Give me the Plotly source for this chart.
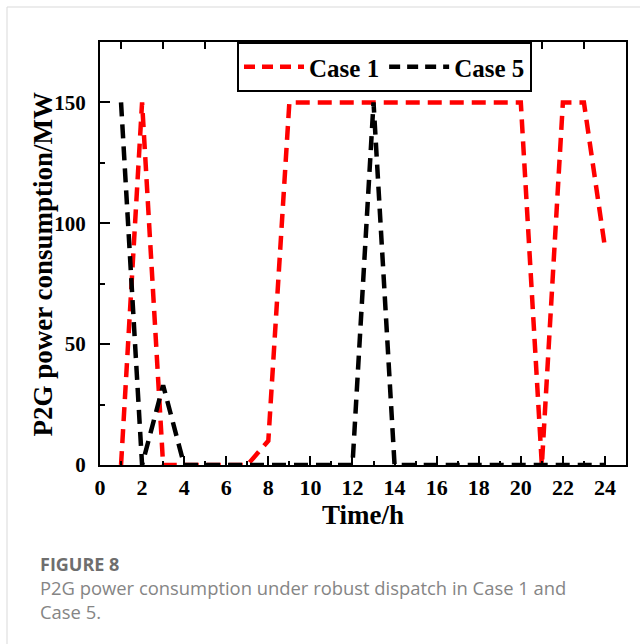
import plotly.graph_objects as go

hours = list(range(1, 25))
case1 = [0, 150, 0, 0, 0, 0, 0, 10, 150, 150, 150, 150, 150, 150, 150, 150, 150, 150, 150, 150, 0, 150, 150, 90]
case5 = [150, 0, 33, 0, 0, 0, 0, 0, 0, 0, 0, 0, 150, 0, 0, 0, 0, 0, 0, 0, 0, 0, 0, 0]
series_names = ["Case 1", "Case 5"]
series_colors = ["#ff0000", "#000000"]
x_ticks = list(range(0, 25, 2))
y_ticks = [0, 50, 100, 150]
x_title = "Time/h"
y_title = "P2G power consumption/MW"

caption_title = "FIGURE 8"
caption_lines = ["P2G power consumption under robust dispatch in Case 1 and", "Case 5."]

SERIF = "Times New Roman, Liberation Serif, serif"

fig = go.Figure()
for name, ys, col in zip(series_names, [case1, case5], series_colors):
    fig.add_trace(go.Scatter(x=hours, y=ys, mode="lines", name=name, showlegend=False,
                             line=dict(color=col, width=4.5, dash="14px,8px")))
    # legend entry
    fig.add_trace(go.Scatter(x=[None], y=[None], mode="lines", name=name, showlegend=True,
                             line=dict(color=col, width=4.5, dash="11px,7px")))

# dummy trace on top axis for odd ticks
fig.add_trace(go.Scatter(x=[None], y=[None], xaxis="x2", showlegend=False, hoverinfo="skip"))

W, H = 640, 644
L, R, T, B = 100, 14, 42, 179
pw, ph = W - L - R, H - T - B

def px_x(px):
    return (px - L) / pw

def px_y(py):
    return (H - B - py) / ph

fig.update_layout(
    width=W, height=H,
    margin=dict(l=L, r=R, t=T, b=B, autoexpand=False),
    paper_bgcolor="white", plot_bgcolor="white",
    font=dict(family=SERIF, color="black"),
    legend=dict(orientation="h", x=px_x(237), y=1.0, xanchor="left", yanchor="top",
                bgcolor="white", bordercolor="black", borderwidth=2,
                font=dict(family=SERIF, size=25, weight="bold", color="black"),
                itemwidth=60, tracegroupgap=0),
    xaxis=dict(range=[0, 25], tickvals=x_ticks, ticks="inside", ticklen=9, tickwidth=2,
               tickcolor="black", showline=True, linewidth=2, linecolor="black", mirror=True,
               showgrid=False, zeroline=False, ticklabelstandoff=2,
               minor=dict(dtick=1, tick0=0, ticks="inside", ticklen=4, tickwidth=2, tickcolor="black", showgrid=False),
               tickfont=dict(family=SERIF, size=22, weight="bold"),
               title=dict(text=x_title, font=dict(family=SERIF, size=27, weight="bold"), standoff=2)),
    xaxis2=dict(range=[0, 25], overlaying="x", side="top", anchor="y", tick0=1, dtick=2,
                ticks="inside", ticklen=7, tickwidth=2, tickcolor="black", showticklabels=False,
                showgrid=False, zeroline=False, showline=False),
    yaxis=dict(range=[0, 175], tickvals=y_ticks, ticks="inside", ticklen=10, tickwidth=2,
               tickcolor="black", showline=True, linewidth=2, linecolor="black", mirror=True,
               showgrid=False, zeroline=False, ticklabelstandoff=8,
               minor=dict(tickvals=[25, 75, 125], ticks="inside", ticklen=5, tickwidth=2, tickcolor="black", showgrid=False),
               tickfont=dict(family=SERIF, size=21, weight="bold")),
)

# y-axis title (placed as rotated text to match the reference position)
fig.add_annotation(text=y_title, xref="paper", yref="paper", x=px_x(42.5), y=px_y(264),
                   xanchor="center", yanchor="middle", textangle=-90, showarrow=False,
                   font=dict(family=SERIF, size=27, weight="bold", color="black"))

# card border
fig.add_shape(type="rect", xref="paper", yref="paper",
              x0=px_x(7), x1=px_x(660), y0=px_y(660), y1=px_y(7),
              line=dict(color="#d9d9d9", width=1), fillcolor="rgba(0,0,0,0)", layer="below")

fig.add_annotation(text=caption_title, xref="paper", yref="paper", x=px_x(38), y=px_y(564),
                   xanchor="left", yanchor="middle", showarrow=False,
                   font=dict(family="Open Sans, sans-serif", size=18, color="#6e6e6e", weight="bold"))
for i, line in enumerate(caption_lines):
    fig.add_annotation(text=line, xref="paper", yref="paper", x=px_x(38), y=px_y(588 + 23 * i),
                       xanchor="left", yanchor="middle", showarrow=False,
                       font=dict(family="Open Sans, sans-serif", size=18.4, color="#858585"))

fig.write_html("out.html")
